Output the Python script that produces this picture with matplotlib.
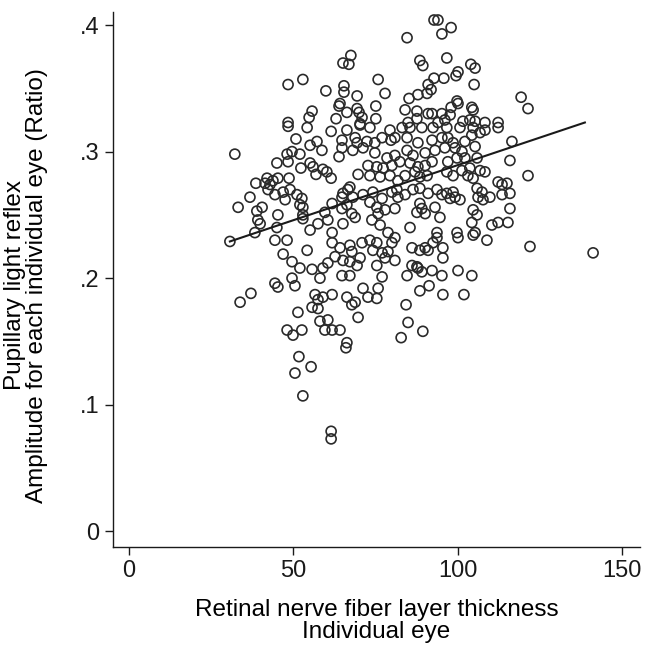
import matplotlib
matplotlib.use("Agg")
import matplotlib.pyplot as plt
import numpy as np

plt.rcParams['font.family'] = ['Liberation Sans', 'DejaVu Sans']

# Retinal nerve fiber layer thickness (x) and pupillary light reflex amplitude ratio (y)
rnfl = [
    67.5, 65.1, 66.9, 48.4, 52.9, 59.9, 65.4, 65.4, 69.4, 75.8, 77.9, 75.1, 64.2, 63.9, 55.7, 54.8,
    63.0, 66.3, 69.4, 70.0, 70.9, 75.1, 48.4, 70.3,
    92.8, 94.0, 98.0, 95.2, 84.6, 88.5, 89.4, 96.7, 104.0, 105.3, 100.1, 99.5, 92.8, 95.8, 105.0, 91.0,
    91.9, 90.7, 87.9, 85.2, 119.3, 121.4, 99.8, 100.1, 98.0, 104.3, 104.7, 84.0, 87.6, 91.0, 92.2, 95.2,
    97.7, 87.6, 84.9, 101.6, 103.7, 105.3, 108.3, 112.3, 96.1, 94.0,
    32.2, 38.6, 36.8, 33.2, 38.9, 39.2, 38.3,
    48.4, 54.2, 61.5, 66.3, 70.3, 73.3, 79.4, 50.8, 57.2, 55.1, 58.7, 64.8, 68.8, 69.4, 72.4, 74.8,
    77.0, 79.7, 64.8, 68.1, 71.2, 49.6, 48.1, 52.0, 45.0, 48.4, 63.9, 74.8, 78.5, 72.7, 75.4, 77.3,
    80.0, 52.3, 55.1, 56.0, 59.0, 60.2, 56.9, 61.5, 69.7, 73.3, 76.4, 79.4, 42.0, 43.8, 45.3, 48.7,
    41.4, 42.9, 42.3, 44.4, 46.9, 49.0, 51.1, 47.5, 52.6, 52.0, 52.9, 61.8, 65.1, 67.2, 66.6, 64.8,
    68.1, 71.2, 74.2, 73.3, 77.0, 80.0, 40.5, 45.3, 52.9, 59.6, 64.8, 66.3, 67.8, 68.8, 65.1, 75.4,
    75.8, 73.9, 76.4, 77.9, 78.8, 52.9, 60.5, 57.5, 55.1, 61.8, 45.0, 39.9,
    83.1, 85.5, 89.1, 92.5, 96.7, 100.7, 104.7, 108.3, 112.3, 80.9, 84.6, 87.9, 92.2, 95.2, 97.0, 98.6,
    102.2, 104.3, 106.8, 116.5, 84.6, 86.4, 90.1, 93.1, 96.1, 99.2, 101.3, 105.3, 102.2, 99.8, 97.0, 92.2,
    80.9, 82.4, 85.5, 87.9, 90.1, 87.0, 84.0, 81.8, 88.5, 90.7, 96.7, 98.6, 101.3, 103.7, 105.9, 106.8,
    108.3, 104.7, 103.1, 115.9, 121.4, 112.3, 113.5, 115.0, 113.5, 115.9, 81.5, 84.0, 81.8, 86.4, 88.5, 91.0,
    93.7, 95.2, 96.7, 98.6, 99.2, 100.7, 97.7, 105.9, 107.4, 106.2, 107.7, 109.8, 88.5, 89.1, 87.6, 93.1,
    90.1, 94.6, 104.7, 105.9, 104.3, 110.4, 115.9, 115.3, 112.3, 80.9, 85.5, 93.7, 99.8, 105.3,
    44.4, 48.1, 54.2, 61.8, 64.2, 67.2, 67.8, 70.9, 73.3, 75.4, 74.2, 77.0, 78.8, 80.0, 46.9, 49.6,
    52.0, 55.7, 59.0, 60.5, 62.7, 65.1, 67.2, 69.4, 70.3, 75.4, 77.9, 58.1, 64.8, 67.2, 77.0, 44.4,
    45.3, 49.6, 50.5, 71.2, 75.8, 72.7, 75.4, 56.6, 59.0, 61.8, 66.3, 68.8, 67.8, 57.5, 55.7, 57.5,
    51.4, 69.7, 58.1, 60.5, 48.1, 49.9, 52.6, 59.6, 61.8, 64.2, 66.3,
    80.9, 93.7, 100.1, 104.7, 108.9, 122.0, 86.1, 88.5, 90.1, 91.0, 92.5, 95.5, 95.5, 80.9, 86.1, 87.6,
    87.9, 84.6, 89.1, 92.2, 95.2, 100.1, 104.3, 88.5, 91.3, 95.5, 101.9, 84.3, 84.9, 89.4, 82.8,
    66.0, 51.7, 55.4, 50.5, 52.9, 61.5, 61.5,
    30.7, 37.1, 33.8,
    141.2,
]
plr = [
    .376, .370, .369, .353, .357, .348, .352, .347, .344, .357, .346, .336, .338, .336, .332, .327,
    .326, .331, .334, .331, .327, .326, .323, .322,
    .404, .404, .398, .393, .390, .372, .368, .374, .369, .366, .363, .360, .358, .358, .353, .353,
    .349, .346, .345, .342, .343, .334, .340, .338, .335, .335, .333, .333, .332, .330, .330, .330,
    .329, .326, .323, .324, .325, .324, .323, .323, .325, .323,
    .298, .275, .264, .256, .253, .246, .236,
    .320, .319, .316, .317, .321, .319, .317, .310, .308, .305, .301, .309, .311, .307, .308, .307,
    .311, .309, .303, .301, .303, .300, .298, .298, .291, .292, .296, .299, .295, .289, .288, .287,
    .289, .287, .291, .288, .286, .284, .282, .279, .282, .281, .280, .281, .279, .277, .279, .279,
    .275, .274, .270, .266, .268, .270, .266, .262, .263, .258, .256, .259, .267, .272, .270, .264,
    .264, .266, .268, .260, .263, .268, .256, .250, .250, .252, .255, .258, .251, .248, .243, .256,
    .251, .246, .242, .254, .236, .247, .246, .243, .238, .236, .240, .243,
    .319, .319, .319, .319, .319, .319, .319, .317, .319, .311, .311, .307, .309, .311, .311, .307,
    .308, .313, .315, .308, .301, .297, .299, .301, .303, .303, .300, .304, .295, .295, .292, .292,
    .297, .292, .291, .288, .289, .284, .281, .277, .280, .281, .284, .281, .285, .287, .295, .285,
    .284, .279, .281, .293, .281, .276, .274, .275, .266, .267, .270, .266, .264, .270, .271, .267,
    .270, .266, .267, .268, .264, .262, .263, .271, .268, .264, .262, .264, .259, .255, .252, .256,
    .251, .248, .254, .250, .244, .242, .255, .244, .244, .255, .240, .236, .236, .236,
    .230, .230, .222, .228, .224, .226, .221, .228, .230, .228, .222, .220, .221, .228, .219, .213,
    .208, .207, .208, .212, .217, .214, .213, .210, .216, .210, .216, .200, .202, .202, .201, .196,
    .193, .200, .194, .192, .192, .185, .184, .187, .185, .187, .185, .181, .179, .183, .177, .176,
    .173, .169, .166, .167, .159, .155, .159, .159, .159, .159, .149,
    .232, .232, .232, .234, .230, .225, .224, .222, .224, .222, .228, .224, .216, .214, .210, .209,
    .208, .202, .205, .206, .202, .206, .202, .190, .194, .187, .187, .179, .165, .158, .153,
    .145, .138, .130, .125, .107, .079, .073,
    .229, .188, .181,
    .220,
]

# Linear fit line endpoints
fit_x = [30.7, 138.7]
fit_y = [0.229, 0.323]

x_ticks = [0, 50, 100, 150]
x_ticklabels = ["0", "50", "100", "150"]
y_ticks = [0, 0.1, 0.2, 0.3, 0.4]
y_ticklabels = ["0", ".1", ".2", ".3", ".4"]

fig = plt.figure(figsize=(6.64, 6.53), dpi=100)
ax = fig.add_axes([0.170, 0.162, 0.794, 0.819])

ax.scatter(rnfl, plr, s=52, facecolors='none', edgecolors='#2a2a2a', linewidths=1.2, zorder=2)
ax.plot(fit_x, fit_y, color='#1a1a1a', linewidth=1.5, zorder=3)

ax.set_xlim(-4.9, 155.5)
ax.set_ylim(-0.0126, 0.410)
ax.set_xticks(x_ticks)
ax.set_xticklabels(x_ticklabels)
ax.set_yticks(y_ticks)
ax.set_yticklabels(y_ticklabels)

for s in ['top', 'right']:
    ax.spines[s].set_visible(False)
for s in ['left', 'bottom']:
    ax.spines[s].set_linewidth(1.0)
    ax.spines[s].set_color('#1a1a1a')

ax.tick_params(axis='both', direction='out', length=6, width=1.0, labelsize=17, colors='#1a1a1a')
ax.set_xlabel("Retinal nerve fiber layer thickness\nIndividual eye", fontsize=17.5, linespacing=1.0, va='center')
ax.xaxis.set_label_coords(0.5, -0.138)
ax.set_ylabel("Pupillary light reflex\nAmplitude for each individual eye (Ratio)", fontsize=17.5, linespacing=1.0, va='center')
ax.yaxis.set_label_coords(-0.165, 0.49)

fig.savefig("out.png", dpi=100)
